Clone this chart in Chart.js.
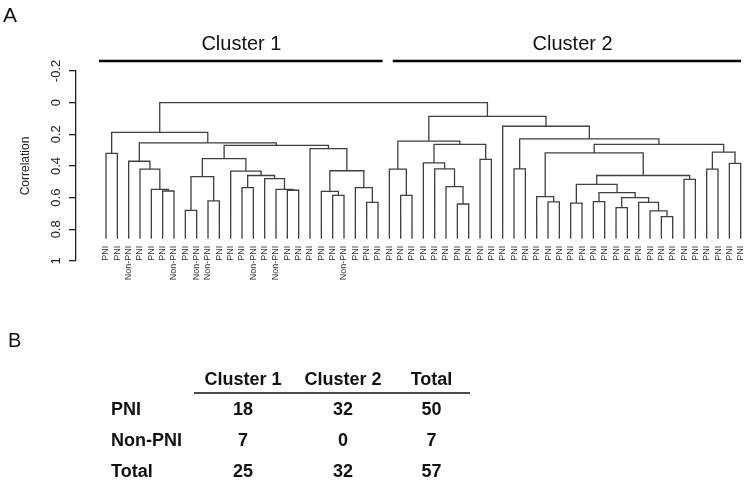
<!DOCTYPE html>
<html><head><meta charset="utf-8">
<script src="https://cdn.jsdelivr.net/npm/chart.js@4"></script>
<style>
html,body{margin:0;padding:0;background:#fff;}
#wrap{position:relative;width:750px;height:483px;overflow:hidden;font-family:"Liberation Sans",Arial,Helvetica,sans-serif;}
#c{position:absolute;left:0;top:0;}
.t{position:absolute;white-space:nowrap;line-height:1;color:#111;}
.b{font-weight:bold;font-size:18px;}
</style></head><body>
<div id="wrap"><canvas id="c" width="750" height="483"></canvas></div>
<script>
// ---------- data ----------
const leafLabels = [
  'PNI','PNI','Non-PNI','PNI','PNI','PNI','Non-PNI','PNI','Non-PNI','Non-PNI',
  'PNI','PNI','PNI','Non-PNI','PNI','Non-PNI','PNI','PNI','PNI','PNI',
  'PNI','Non-PNI','PNI','PNI','PNI',
  'PNI','PNI','PNI','PNI','PNI','PNI','PNI','PNI','PNI','PNI',
  'PNI','PNI','PNI','PNI','PNI','PNI','PNI','PNI','PNI','PNI',
  'PNI','PNI','PNI','PNI','PNI','PNI','PNI','PNI','PNI','PNI',
  'PNI','PNI'
];
// hclust-style merges: negative = leaf -(index+1), positive = earlier merge row (1-based); third = height
const merges = [
  [-1,-2,0.32],[-6,-7,0.558],[-5,2,0.547],[-4,3,0.42],[-3,4,0.37],
  [-8,-9,0.68],[-10,-11,0.62],[6,7,0.467],[-13,-14,0.537],[-17,-18,0.553],
  [-16,10,0.547],[-15,11,0.48],[9,12,0.46],[-12,13,0.432],[8,14,0.354],
  [-21,-22,0.585],[-20,16,0.56],[-24,-25,0.63],[-23,18,0.537],[17,19,0.43],
  [-19,20,0.29],[15,21,0.27],[5,22,0.254],[1,23,0.187],
  [-27,-28,0.585],[-26,25,0.42],[-32,-33,0.64],[-31,27,0.53],[-30,28,0.418],
  [-29,29,0.38],[-34,-35,0.358],[30,31,0.264],[26,32,0.243],
  [-40,-41,0.627],[-39,34,0.593],[-42,-43,0.635],[-44,-45,0.625],[-46,-47,0.663],
  [-50,-51,0.72],[-49,39,0.684],[-48,40,0.63],[38,41,0.6],[37,42,0.568],
  [36,43,0.516],[-52,-53,0.484],[44,45,0.46],[35,46,0.317],
  [-54,-55,0.42],[-56,-57,0.384],[48,49,0.312],[47,50,0.264],
  [-37,-38,0.418],[52,51,0.229],[-36,53,0.149],[33,54,0.086],[24,55,0.0]
];
const leafBottom = 0.86;
const yTickValues = [-0.2,0,0.2,0.4,0.6,0.8,1];
const yTickLabels = ['-0.2','0','0.2','0.4','0.6','0.8','1'];
const clusterNames = ['Cluster 1','Cluster 2'];
const clusterBarRange = [[-0.62,24.41],[25.3,56.03]];
const clusterLabelAt = [11.95,41.17];
const tableCols = ['Cluster 1','Cluster 2','Total'];
const tableRows = ['PNI','Non-PNI','Total'];
const tableValues = [[18,32,50],[7,0,7],[25,32,57]];

// ---------- build dendrogram segments ----------
const nodeX = [], nodeH = [];
function childPos(ref){ return ref < 0 ? {x:-ref-1, h:leafBottom} : {x:nodeX[ref-1], h:nodeH[ref-1]}; }
const segs = [];
merges.forEach((m,j)=>{
  const a = childPos(m[0]), b = childPos(m[1]), h = m[2];
  segs.push({x:a.x,y:a.h},{x:a.x,y:h},{x:b.x,y:h},{x:b.x,y:b.h},{x:b.x,y:null});
  nodeX[j] = (a.x+b.x)/2; nodeH[j] = h;
});

const FONT = '"Liberation Sans", Arial, Helvetica, sans-serif';
const dendroPlugin = {
  id:'dendro',
  afterDraw(chart){
    const {ctx, scales:{x,y}} = chart;
    ctx.save();
    ctx.fillStyle = '#333';
    ctx.font = '9px ' + FONT;
    ctx.textAlign = 'right';
    ctx.textBaseline = 'middle';
    const ly = y.getPixelForValue(leafBottom) + 7;
    leafLabels.forEach((l,i)=>{
      ctx.save();
      ctx.translate(x.getPixelForValue(i), ly);
      ctx.rotate(-Math.PI/2);
      ctx.fillText(l,0,0);
      ctx.restore();
    });
    ctx.strokeStyle = '#000';
    ctx.lineWidth = 2.5;
    clusterBarRange.forEach(r=>{
      ctx.beginPath();
      ctx.moveTo(x.getPixelForValue(r[0]), 61);
      ctx.lineTo(x.getPixelForValue(r[1]), 61);
      ctx.stroke();
    });
    ctx.fillStyle = '#111';
    ctx.font = '20px ' + FONT;
    ctx.textAlign = 'center';
    ctx.textBaseline = 'alphabetic';
    clusterNames.forEach((n,i)=>ctx.fillText(n, x.getPixelForValue(clusterLabelAt[i]), 49.5));
    ctx.restore();
  }
};

new Chart(document.getElementById('c'), {
  type:'line',
  data:{datasets:[{data:segs, borderColor:'#3f3f3f', borderWidth:1.3, pointRadius:0, tension:0, spanGaps:false, fill:false}]},
  options:{
    responsive:false, animation:false,
    layout:{padding:{left:0,right:5,top:71,bottom:222}},
    plugins:{legend:{display:false}, tooltip:{enabled:false}},
    scales:{
      x:{type:'linear', min:-2.647, max:56.38, display:false},
      y:{
        type:'linear', reverse:true, min:-0.2, max:1,
        afterBuildTicks:s=>{ s.ticks = yTickValues.map(v=>({value:v})); },
        afterFit:s=>{ s.width = 76; },
        border:{display:true, color:'#222', width:1.3},
        grid:{display:true, drawOnChartArea:false, drawTicks:true, tickLength:7, color:'#222', lineWidth:1.3},
        ticks:{minRotation:90, maxRotation:90, crossAlign:'center', padding:1, color:'#222',
               font:{size:13, family:FONT}, callback:(v,i)=>yTickLabels[i]},
        title:{display:true, text:'Correlation', color:'#222', font:{size:12, family:FONT}, padding:{top:18,bottom:0}}
      }
    }
  },
  plugins:[dendroPlugin]
});

// ---------- HTML text: panel letters and table ----------
const wrap = document.getElementById('wrap');
function addText(txt, cls, left, baseline, size, align, width){
  const d = document.createElement('div');
  d.className = 't ' + (cls||'');
  d.textContent = txt;
  d.style.fontSize = size + 'px';
  d.style.top = (baseline - 0.8465*size) + 'px';
  if (align === 'center') { d.style.left = (left - width/2) + 'px'; d.style.width = width + 'px'; d.style.textAlign = 'center'; }
  else d.style.left = left + 'px';
  wrap.appendChild(d);
}
addText('A','',3,21.7,21);
addText('B','',8,347,20);
const colCenters = [243,343,431.5];
const rowBaselines = [415,446,477];
tableCols.forEach((c,i)=>addText(c,'b',colCenters[i],385,18,'center',110));
const line = document.createElement('div');
line.style.cssText = 'position:absolute;left:194px;top:392px;width:276px;height:1.5px;background:#4a4a4a;';
wrap.appendChild(line);
tableRows.forEach((r,ri)=>{
  addText(r,'b',111,rowBaselines[ri],18);
  tableValues[ri].forEach((v,ci)=>addText(String(v),'b',colCenters[ci],rowBaselines[ri],18,'center',80));
});
</script>
</body></html>
